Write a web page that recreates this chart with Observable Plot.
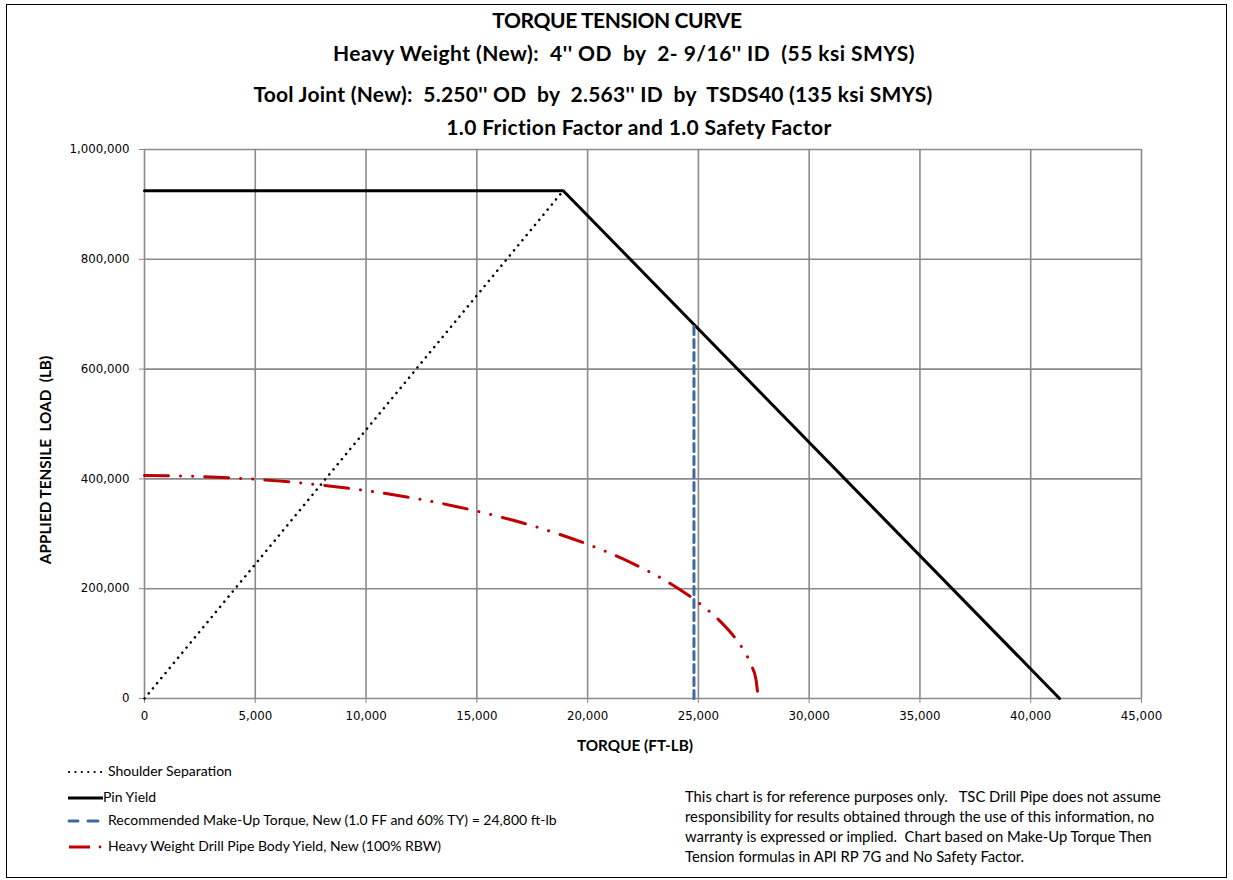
<!DOCTYPE html>
<html>
<head>
<meta charset="utf-8">
<script src="https://cdn.jsdelivr.net/npm/d3@7"></script>
<script src="https://cdn.jsdelivr.net/npm/@observablehq/plot@0.6"></script>
<style>
  html, body { margin: 0; padding: 0; background: #fff; }
  #page { position: relative; width: 1233px; height: 880px; overflow: hidden; }
  #border { position: absolute; left: 6px; top: 4px; width: 1219px; height: 872px; border: 1.5px solid #000; }
  .t { position: absolute; width: 1000px; text-align: center; font-family: Lato, sans-serif; font-weight: bold; font-size: 21px; color: #000; white-space: pre; }
  #chart { position: absolute; left: 0; top: 140px; }
  .axt { position: absolute; font-family: Lato, sans-serif; font-weight: bold; font-size: 15.3px; white-space: pre; }
  .leg { position: absolute; left: 66px; font-family: Lato, sans-serif; font-size: 14px; white-space: pre; }
  .leg svg { vertical-align: middle; }
  #note { position: absolute; left: 685px; top: 786px; font-family: Lato, sans-serif; font-size: 14.8px; line-height: 20px; white-space: pre; }
</style>
</head>
<body>
<div id="page">
  <div id="border"></div>
  <div class="t" id="t1" style="top:7px;left:117px;letter-spacing:-0.4px">TORQUE TENSION CURVE</div>
  <div class="t" id="t2" style="top:40px;left:124px;letter-spacing:0.45px">Heavy Weight (New):  4'' OD  by  2- 9/16'' ID  (55 ksi SMYS)</div>
  <div class="t" id="t3" style="top:81px;left:93px;letter-spacing:0.25px">Tool Joint (New):  5.250'' OD  by  2.563'' ID  by  TSDS40 (135 ksi SMYS)</div>
  <div class="t" id="t4" style="top:114px;left:139px;letter-spacing:0.35px">1.0 Friction Factor and 1.0 Safety Factor</div>
  <div id="chart"></div>
  <div class="axt" style="left:0;width:1270px;text-align:center;top:736px">TORQUE (FT-LB)</div>
  <div class="axt" style="left:45px;top:460px;transform:translate(-50%,-50%) rotate(-90deg)">APPLIED TENSILE  LOAD  (LB)</div>
  <div id="legend"></div>
  <div id="note">This chart is for reference purposes only.   TSC Drill Pipe does not assume
responsibility for results obtained through the use of this information, no
warranty is expressed or implied.  Chart based on Make-Up Torque Then
Tension formulas in API RP 7G and No Safety Factor.</div>
</div>
<script>
// ---- Data ----
const xTicks = [0, 5000, 10000, 15000, 20000, 25000, 30000, 35000, 40000, 45000];
const yTicks = [0, 200000, 400000, 600000, 800000, 1000000];

const shoulderTorque = [0, 18900];
const shoulderLoad   = [0, 925000];

const pinTorque = [0, 18900, 41300];
const pinLoad   = [925000, 925000, 0];

const makeupTorque = [24800, 24800];
const makeupLoad   = [0, 680000];

const bodyTorque = [0, 2000, 4000, 6000, 8000, 10000, 12000, 14000, 16000, 18000, 20000, 22000, 24000, 25000, 26000, 26500, 27000, 27400, 27600, 27700];
const bodyLoad   = [406000, 404900, 401700, 396400, 388700, 378600, 365900, 350300, 331400, 308600, 280900, 246700, 202700, 174800, 140100, 118200, 90700, 59600, 34500, 0];

const seriesNames = [
  "Shoulder Separation",
  "Pin Yield",
  "Recommended Make-Up Torque, New (1.0 FF and 60% TY) = 24,800 ft-lb",
  "Heavy Weight Drill Pipe Body Yield, New (100% RBW)"
];

// ---- Build tables ----
const toRows = (xs, ys) => xs.map((x, i) => ({x, y: ys[i]}));
const shoulder = toRows(shoulderTorque, shoulderLoad);
const pin = toRows(pinTorque, pinLoad);
const makeup = toRows(makeupTorque, makeupLoad);
const body = toRows(bodyTorque, bodyLoad);

const styles = [
  {stroke: "#000", strokeWidth: 2.5, strokeDasharray: "0.1,6.5", strokeLinecap: "round"},
  {stroke: "#000", strokeWidth: 3},
  {stroke: "#3d6aa0", strokeWidth: 3, strokeDasharray: "8,5", strokeLinecap: "round"},
  {stroke: "#c00000", strokeWidth: 3, strokeDasharray: "24,12,0.1,12,0.1,12", strokeLinecap: "round"}
];

const W = 1233, H = 620;
const plot = Plot.plot({
  width: W,
  height: H,
  marginLeft: 144,
  marginRight: W - 1141,
  marginTop: 9,
  marginBottom: H - 9 - 549,
  style: {fontFamily: "'DejaVu Sans', sans-serif", fontSize: "11.8px", background: "transparent", color: "#000"},
  x: {domain: [0, 45000]},
  y: {domain: [0, 1000000]},
  marks: [
    Plot.frame({stroke: "#000", strokeWidth: 1}),
    Plot.gridX(xTicks, {stroke: "#8a8a8a", strokeOpacity: 1, strokeWidth: 1.6}),
    Plot.gridY(yTicks, {stroke: "#8a8a8a", strokeOpacity: 1, strokeWidth: 1.6}),
    Plot.axisX(xTicks, {tickSize: 5, tickPadding: 8, tickFormat: d3.format(","), label: null, stroke: "#8a8a8a", fill: "#000"}),
    Plot.axisY(yTicks, {tickSize: 5, tickPadding: 10, tickFormat: d3.format(","), label: null, stroke: "#8a8a8a", fill: "#000"}),
    Plot.line(shoulder, {x: "x", y: "y", ...styles[0]}),
    Plot.line(pin, {x: "x", y: "y", ...styles[1]}),
    Plot.line(makeup, {x: "x", y: "y", ...styles[2]}),
    Plot.line(body, {x: "x", y: "y", curve: "monotone-x", ...styles[3]})
  ]
});
document.getElementById("chart").appendChild(plot);

// ---- Legend ----
const legTops = [762, 788, 811, 837];
const legend = document.getElementById("legend");
seriesNames.forEach((name, i) => {
  const s = styles[i];
  const div = document.createElement("div");
  div.className = "leg";
  div.style.top = legTops[i] + "px";
  let sample;
  if (i === 3) {
    sample = `<line x1="3" y1="8" x2="24" y2="8" stroke="${s.stroke}" stroke-width="3"/><circle cx="34" cy="8" r="1.4" fill="${s.stroke}"/>`;
  } else if (i === 2) {
    sample = `<line x1="3" y1="8" x2="12" y2="8" stroke="${s.stroke}" stroke-width="3" stroke-linecap="round"/><line x1="22" y1="8" x2="32" y2="8" stroke="${s.stroke}" stroke-width="3" stroke-linecap="round"/>`;
  } else if (i === 0) {
    sample = `<line x1="3" y1="8" x2="37" y2="8" stroke="#000" stroke-width="2.2" stroke-dasharray="0.1,6.3" stroke-linecap="round"/>`;
  } else {
    sample = `<line x1="2" y1="8" x2="37" y2="8" stroke="#000" stroke-width="3"/>`;
  }
  div.innerHTML = `<svg width="${i === 1 ? 37 : 42}" height="16">${sample}</svg>${name}`;
  legend.appendChild(div);
});
</script>
</body>
</html>
